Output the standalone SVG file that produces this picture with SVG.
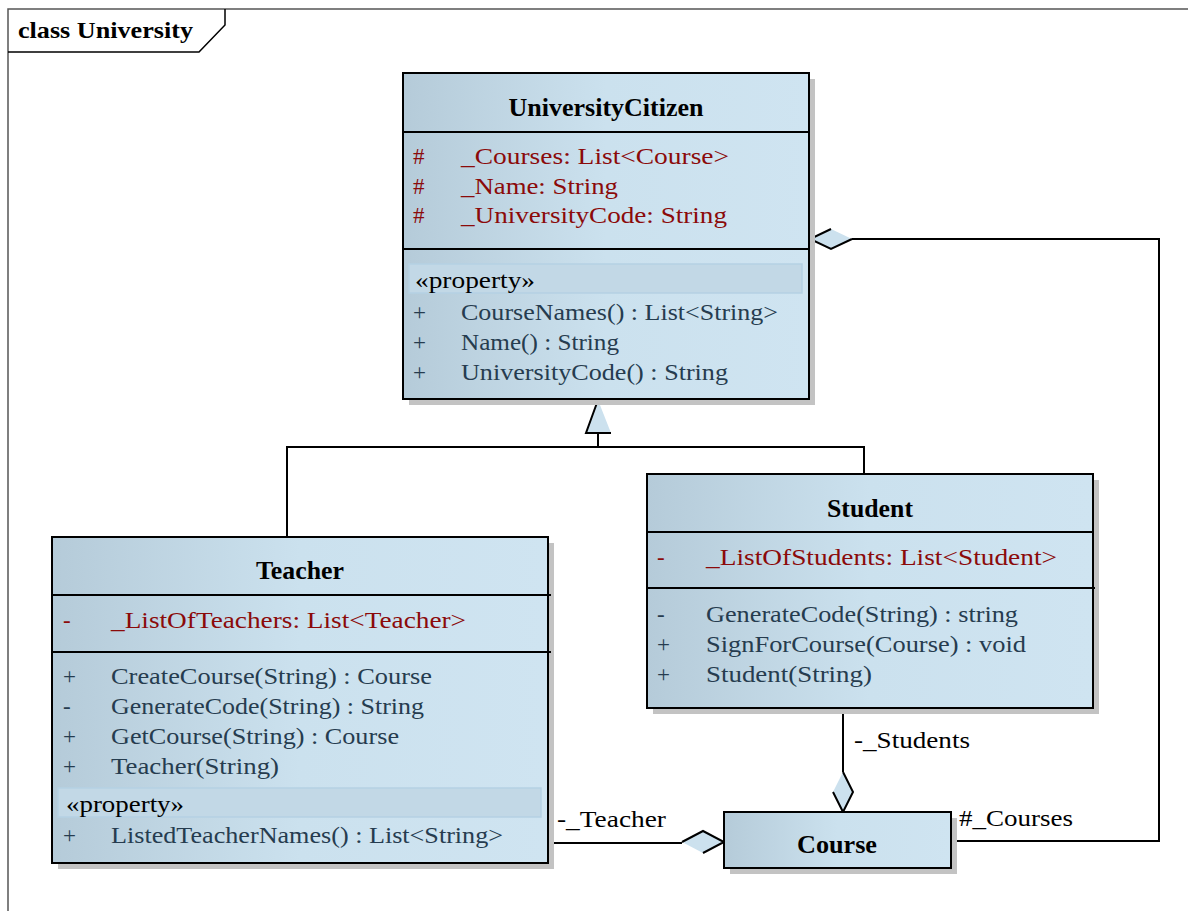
<svg xmlns="http://www.w3.org/2000/svg" width="1188" height="911" viewBox="0 0 1188 911" font-family="'Liberation Serif', 'Times New Roman', 'DejaVu Serif', serif">
<defs>
<linearGradient id="g" x1="0" y1="0" x2="1" y2="0">
<stop offset="0" stop-color="#b5cbd9"/>
<stop offset="0.5" stop-color="#cbe1ee"/>
<stop offset="1" stop-color="#cfe4f1"/>
</linearGradient>
<style>
text{font-family:'Liberation Serif','Times New Roman','DejaVu Serif',serif;}
.box{fill:url(#g);stroke:#000;stroke-width:2;}
.sh{fill:#c3c3c3;}
.div{stroke:#000;stroke-width:2;}
.title{font-size:25px;font-weight:bold;text-anchor:middle;fill:#000;}
.attr{font-size:23px;fill:#8b0a0a;}
.op{font-size:23px;fill:#263c4f;}
.st{font-size:23px;fill:#000;}
.pbox{fill:#c2d8e6;stroke:#b5d1e3;stroke-width:1.5;}
.ln{fill:none;stroke:#000;stroke-width:2;}
.dfill{fill:#cce1ee;stroke:none;}
.lbl{font-size:23px;fill:#000;}
</style>
</defs>
<rect width="1188" height="911" fill="#fff"/>
<g id="frame">
<path d="M8 911 V9 H1188" fill="none" stroke="#555" stroke-width="1.5"/>
<path d="M8 52 H199 L225 25 V9" fill="none" stroke="#000" stroke-width="1.5"/>
<text x="18" y="38" style="font-size:23px;font-weight:bold" textLength="175" lengthAdjust="spacingAndGlyphs">class University</text>
</g>
<g id="connectors">
<path class="ln" d="M287 537 V447 H864 V474"/>
<path class="ln" d="M598 447 V433"/>
<polygon class="dfill" points="598,400 611,433 586,433"/>
<path class="ln" d="M598 400 L586 433 H611"/>
<path class="ln" d="M548 843 H682"/>
<polygon class="dfill" points="682,842 703,831 724,842 703,853"/>
<path class="ln" d="M682 842 L703 831 L724 842 L703 853"/>
<path class="ln" d="M843 708 V772"/>
<polygon class="dfill" points="843,772 853,792 843,812 833,792"/>
<path class="ln" d="M843 772 L853 792 L843 812 L833 792"/>
<path class="ln" d="M951 841 H1159 V239 H852"/>
<polygon class="dfill" points="810,239 831,229 852,239 831,249"/>
<path class="ln" d="M852 239 L831 249 L810 239 L831 229"/>
<text class="lbl" x="557" y="827" textLength="109" lengthAdjust="spacingAndGlyphs">-_Teacher</text>
<text class="lbl" x="854" y="748" textLength="116" lengthAdjust="spacingAndGlyphs">-_Students</text>
<text class="lbl" x="959" y="826" textLength="114" lengthAdjust="spacingAndGlyphs">#_Courses</text>
</g>
<g id="UniversityCitizen">
<rect class="sh" x="409" y="79" width="406" height="326"/>
<rect class="box" x="403" y="73" width="406" height="326"/>
<line class="div" x1="403" y1="132" x2="809" y2="132"/>
<line class="div" x1="403" y1="249" x2="809" y2="249"/>
<text class="title" x="606" y="116" textLength="195" lengthAdjust="spacingAndGlyphs">UniversityCitizen</text>
<text class="attr" x="413" y="164">#</text><text class="attr" x="461" y="164" textLength="268" lengthAdjust="spacingAndGlyphs">_Courses: List&lt;Course&gt;</text>
<text class="attr" x="413" y="194">#</text><text class="attr" x="461" y="194" textLength="157" lengthAdjust="spacingAndGlyphs">_Name: String</text>
<text class="attr" x="413" y="223">#</text><text class="attr" x="461" y="223" textLength="266" lengthAdjust="spacingAndGlyphs">_UniversityCode: String</text>
<rect class="pbox" x="409" y="264" width="393" height="29"/>
<text class="st" x="415" y="288" textLength="120" lengthAdjust="spacingAndGlyphs">«property»</text>
<text class="op" x="413" y="320">+</text><text class="op" x="461" y="320" textLength="317" lengthAdjust="spacingAndGlyphs">CourseNames() : List&lt;String&gt;</text>
<text class="op" x="413" y="350">+</text><text class="op" x="461" y="350" textLength="158" lengthAdjust="spacingAndGlyphs">Name() : String</text>
<text class="op" x="413" y="380">+</text><text class="op" x="461" y="380" textLength="267" lengthAdjust="spacingAndGlyphs">UniversityCode() : String</text>
</g>
<g id="Teacher">
<rect class="sh" x="58" y="543" width="496" height="326"/>
<rect class="box" x="52" y="537" width="496" height="326"/>
<line class="div" x1="52" y1="595" x2="551" y2="595"/>
<line class="div" x1="52" y1="652" x2="551" y2="652"/>
<text class="title" x="300" y="579" textLength="88" lengthAdjust="spacingAndGlyphs">Teacher</text>
<text class="attr" x="63" y="628">-</text><text class="attr" x="111" y="628" textLength="355" lengthAdjust="spacingAndGlyphs">_ListOfTeachers: List&lt;Teacher&gt;</text>
<text class="op" x="63" y="684">+</text><text class="op" x="111" y="684" textLength="321" lengthAdjust="spacingAndGlyphs">CreateCourse(String) : Course</text>
<text class="op" x="63" y="714">-</text><text class="op" x="111" y="714" textLength="313" lengthAdjust="spacingAndGlyphs">GenerateCode(String) : String</text>
<text class="op" x="63" y="744">+</text><text class="op" x="111" y="744" textLength="288" lengthAdjust="spacingAndGlyphs">GetCourse(String) : Course</text>
<text class="op" x="63" y="774">+</text><text class="op" x="111" y="774" textLength="168" lengthAdjust="spacingAndGlyphs">Teacher(String)</text>
<rect class="pbox" x="58" y="788" width="483" height="29"/>
<text class="st" x="66" y="812" textLength="118" lengthAdjust="spacingAndGlyphs">«property»</text>
<text class="op" x="63" y="843">+</text><text class="op" x="111" y="843" textLength="392" lengthAdjust="spacingAndGlyphs">ListedTeacherNames() : List&lt;String&gt;</text>
</g>
<g id="Student">
<rect class="sh" x="653" y="480" width="446" height="234"/>
<rect class="box" x="647" y="474" width="446" height="234"/>
<line class="div" x1="647" y1="532" x2="1093" y2="532"/>
<line class="div" x1="647" y1="588" x2="1095" y2="588"/>
<text class="title" x="870" y="517" textLength="86" lengthAdjust="spacingAndGlyphs">Student</text>
<text class="attr" x="657" y="565">-</text><text class="attr" x="706" y="565" textLength="351" lengthAdjust="spacingAndGlyphs">_ListOfStudents: List&lt;Student&gt;</text>
<text class="op" x="657" y="622">-</text><text class="op" x="706" y="622" textLength="312" lengthAdjust="spacingAndGlyphs">GenerateCode(String) : string</text>
<text class="op" x="657" y="652">+</text><text class="op" x="706" y="652" textLength="320" lengthAdjust="spacingAndGlyphs">SignForCourse(Course) : void</text>
<text class="op" x="657" y="682">+</text><text class="op" x="706" y="682" textLength="166" lengthAdjust="spacingAndGlyphs">Student(String)</text>
</g>
<g id="Course">
<rect class="sh" x="730" y="818" width="227" height="56"/>
<rect class="box" x="724" y="812" width="227" height="56"/>
<text class="title" x="837" y="853" textLength="80" lengthAdjust="spacingAndGlyphs">Course</text>
</g>
</svg>
